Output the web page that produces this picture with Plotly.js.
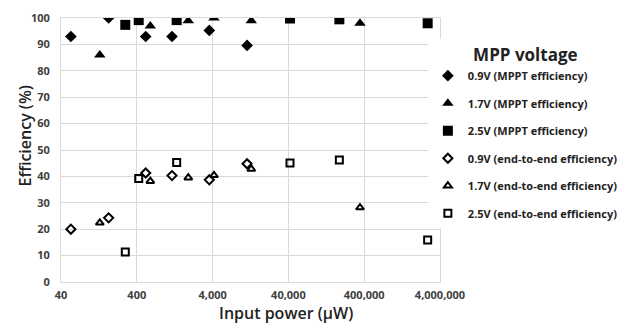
<!DOCTYPE html>
<html><head><meta charset="utf-8">
<script src="https://cdn.plot.ly/plotly-3.0.1.min.js"></script>
<style>html,body{margin:0;padding:0;background:#fff}#chart{width:628px;height:326px}</style>
</head><body><div id="chart"></div>
<script>
// Input power (µW) and efficiency (%)
const mppt09_x = [54, 170, 524, 1165, 3620, 11400];
const mppt09_y = [93, 100, 93, 93, 95.3, 89.6];
const mppt17_x = [130, 603, 1910, 4170, 12950, 352000];
const mppt17_y = [86, 97, 99, 100, 99, 98];
const mppt25_x = [282, 424, 1343, 42000, 188000, 2750000];
const mppt25_y = [97.4, 99.2, 99.2, 99.8, 99.5, 98];
const e2e09_x = [54, 170, 524, 1165, 3620, 11400];
const e2e09_y = [20, 24.3, 41.3, 40.3, 38.7, 44.8];
const e2e17_x = [130, 603, 1910, 4170, 12950, 352000];
const e2e17_y = [22.4, 38.2, 39.5, 40.4, 42.8, 28.2];
const e2e25_x = [282, 424, 1343, 42000, 188000, 2750000];
const e2e25_y = [11.4, 39.2, 45.3, 45.1, 46.2, 15.9];
const names = ["0.9V (MPPT efficiency)", "1.7V (MPPT efficiency)", "2.5V (MPPT efficiency)",
  "0.9V (end-to-end efficiency)", "1.7V (end-to-end efficiency)", "2.5V (end-to-end efficiency)"];
const xTicks = [40, 400, 4000, 40000, 400000, 4000000];
const xTickText = ["40", "400", "4,000", "40,000", "400,000", "4,000,000"];
const yTicks = [0, 10, 20, 30, 40, 50, 60, 70, 80, 90, 100];

const series = [
  [mppt09_x, mppt09_y, "diamond", 9, 0],
  [mppt17_x, mppt17_y, "triangle-up", 10, 0],
  [mppt25_x, mppt25_y, "square", 10, 0],
  [e2e09_x, e2e09_y, "diamond-open", 7, 2],
  [e2e17_x, e2e17_y, "triangle-up-open", 7, 2],
  [e2e25_x, e2e25_y, "square-open", 7, 2]
];
const data = series.map((s, i) => ({
  type: "scatter", mode: "markers", x: s[0], y: s[1], name: names[i],
  legendgroup: "g" + i,
  marker: {symbol: s[2], size: s[3], color: "#000", line: {color: "#000", width: s[4]}}
}));

const font = "'Open Sans', 'Liberation Sans', sans-serif";
const layout = {
  width: 628, height: 326,
  margin: {l: 61, r: 188, t: 18, b: 44, autoexpand: false},
  paper_bgcolor: "#fff", plot_bgcolor: "#fff",
  font: {family: font, color: "#333"},
  showlegend: true,
  legend: {
    x: 0.968, xanchor: "left", y: 0.92, yanchor: "top",
    traceorder: "grouped", tracegroupgap: 8.5,
    font: {size: 11, color: "#222", weight: "bold"},
    title: {text: "MPP voltage", side: "top center", font: {size: 17, color: "#222", weight: "bold"}},
    itemwidth: 30
  },
  xaxis: {
    type: "log", range: [Math.log10(40), Math.log10(4000000)],
    tickvals: xTicks, ticktext: xTickText, ticks: "", ticklabelstandoff: 3,
    tickfont: {size: 11, color: "#404040", weight: "bold"},
    showgrid: true, gridcolor: "#d9d9d9", gridwidth: 1,
    showline: true, linecolor: "#d9d9d9", mirror: true, zeroline: false
  },
  yaxis: {
    range: [0, 100], tickvals: yTicks, ticks: "", ticklabelstandoff: 8,
    tickfont: {size: 11, color: "#404040", weight: "bold"},
    showgrid: true, gridcolor: "#d9d9d9", gridwidth: 1,
    showline: true, linecolor: "#d9d9d9", mirror: true, zeroline: false
  },
  annotations: [{
    text: "Efficiency (%)", textangle: -90, showarrow: false,
    xref: "paper", yref: "paper", x: (25 - 61) / 379, y: (283 - 137) / 265,
    xanchor: "center", yanchor: "middle",
    font: {family: font, size: 16, color: "#222", weight: 600}
  }, {
    text: "Input power (μW)", showarrow: false,
    xref: "paper", yref: "paper", x: (286 - 61) / 379, y: (283 - 314.5) / 265,
    xanchor: "center", yanchor: "middle",
    font: {family: font, size: 16, color: "#222", weight: 600}
  }]
};
Plotly.newPlot("chart", data, layout, {displayModeBar: false, staticPlot: true});
</script></body></html>
